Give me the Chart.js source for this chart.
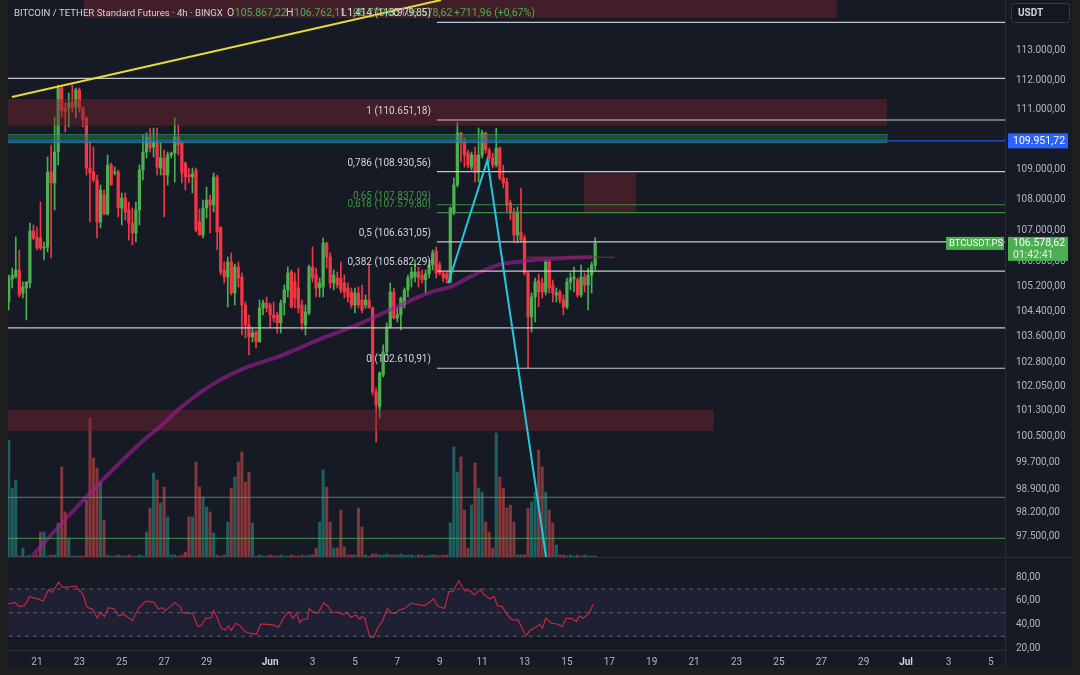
<!DOCTYPE html>
<html><head><meta charset="utf-8">
<script src="https://cdn.jsdelivr.net/npm/chart.js@4/dist/chart.umd.min.js"></script>
<style>
html,body{margin:0;padding:0;width:1080px;height:675px;overflow:hidden;background:#1f1f20;}
#wrap{position:absolute;left:8px;top:0;width:1064px;height:667px;background:#161a25;}
#c1{position:absolute;left:0;top:0;}
#c2{position:absolute;left:0;top:557px;}
#sep{position:absolute;left:0;top:557px;width:1064px;height:1px;background:#2a2e39;}
#vsep{position:absolute;left:997px;top:650px;width:1px;height:17px;background:#2a2e39;}
</style></head><body>
<div id="wrap"><canvas id="c1" width="1064" height="557"></canvas><canvas id="c2" width="1064" height="110"></canvas><div id="sep"></div><div id="vsep"></div></div>
<script>
// ---- time: bar index of 4h bars, 0 = 21 May 00:00 ----
const BAR_START = -8;
const TIME_TICK_K = [0,12,24,36,48,66,78,90,102,114,126,138,150,162,174,186,198,210,222,234,246,258,270];
const TIME_TICK_LABELS = ['21','23','25','27','29','Jun','3','5','7','9','11','13','15','17','19','21','23','25','27','29','Jul','3','5'];
const PRICE_TICKS = [113000,112000,111000,109000,108000,107000,106000,105200,104400,103600,102800,102050,101300,100500,99700,98900,98200,97500];
const RSI_TICKS = [80,60,40,20];

const OPEN = [104700,105430,105500,105720,104985,105145,105305,106980,106785,106755,
106430,106460,108917,108553,109580,111731,111055,111055,111258,111089,
111664,111055,110718,109049,108917,108652,107274,108158,107535,109148,
108884,108917,107731,108060,107666,107241,106916,107666,108983,109580,
110081,109747,109914,109049,109380,108817,109480,109547,110081,109881,
109214,108817,108751,108983,107274,106851,107731,107994,107830,108751,
107111,105721,105497,105979,104985,105818,105497,104603,103970,103592,
103749,103435,104508,104667,104603,104286,104286,104033,104667,105081,
105657,105337,105145,104603,103970,104350,105818,105560,105145,105177,
106592,106140,105305,105465,105465,105305,105145,105018,104603,104985,
104762,104603,104762,104508,101877,101415,102404,103121,103907,105018,
104191,104286,104603,105081,105465,105497,105657,105560,105401,105592,
105882,106334,105882,105625,105592,105337,107568,108487,110215,109914,
109547,109082,109480,108917,109480,110215,109647,109380,109148,109714,
108718,108586,107896,107601,106851,106949,106754,105625,104223,104857,
105401,105305,105018,105979,105241,104920,105018,104762,104540,105337,
105433,105401,104920,105497,105241,105560,105867.22];
const HIGH = [105560,105785,106785,106366,105340,105340,107240,107175,107110,107930,
106625,109414,109814,110752,111833,111833,111225,111562,111833,111731,
111731,111089,110752,109914,109747,108817,108487,108322,109480,109214,
109082,108983,108223,108223,107928,107731,107928,109148,110148,110215,
110382,110382,110382,109881,109647,109580,109580,110718,110483,109914,
109247,109049,109049,109049,107699,107994,108421,108158,108884,108817,
107111,105979,106140,106269,105914,105979,105625,104699,104286,103875,
103812,104762,104762,104857,104667,104699,104381,104762,105241,105818,
105721,105625,105785,104762,104603,105882,106463,105785,105465,106754,
106624,106269,105721,105657,105979,105560,105305,105145,105145,105177,
105241,104920,105882,104540,102001,102498,103341,104033,105305,105145,
104508,104857,105145,105560,105818,106043,105818,105721,105721,106043,
106366,106463,105979,105657,105657,107764,108718,110584,110248,110048,
109647,109580,109747,110382,110315,110248,109714,109547,110382,109747,
109148,108718,107994,107731,107764,108388,106851,105657,104985,105465,
105592,105465,106043,106043,105401,105145,105081,104920,105465,105625,
105818,105465,105882,105625,105785,105979,106762.11];
const LOW = [104450,105145,105465,104860,104825,104130,105145,106690,106366,106366,
106043,106300,106108,107666,109148,110752,110248,110416,110920,110718,
110920,110416,108817,107274,108586,106754,107079,107502,107502,108487,
108817,107437,107177,107339,106689,106527,106624,107177,108652,109380,
109580,109414,108817,108817,107437,108487,109380,108586,109480,108553,
108322,108553,108223,106949,106851,106754,107404,106916,107601,106366,
105560,105305,104540,104920,104603,105177,103655,103560,103027,103435,
103247,103435,104286,104381,103875,104065,103718,103718,104286,104857,
104508,104508,104350,103812,103655,104286,105337,104857,104857,104857,
105785,105145,105081,105145,104985,104825,104699,104508,104350,104508,
104350,104508,104508,101785,100343,101076,102342,103027,103875,104160,
104065,103812,104508,104857,105177,105337,105177,105305,104985,105465,
105721,105465,105560,105337,105305,105305,107502,108421,109247,109082,
109049,108983,108586,108586,109380,109547,109247,109049,109082,108652,
108388,107601,107339,106624,106592,106624,105560,102622,103749,104065,
104540,104825,104920,104985,104699,104699,104667,104286,104476,105081,
105018,104857,104857,105018,104445,104985,105720.00];
const CLOSE = [105460,105560,105720,104920,105175,105340,106980,106755,106430,106430,
106460,108917,108553,109580,111731,110988,110920,111225,111089,111664,
111055,110651,109049,108884,108652,107274,108322,107535,109148,108487,
108917,107731,108060,107601,107241,106916,107666,108983,109580,110081,
109714,109914,109082,109380,108817,109480,109547,110081,109814,108884,
108751,108751,108850,107014,106851,107731,107994,107830,108751,106949,
105657,105497,105979,104985,105818,105465,104603,103970,103592,103718,
103435,104508,104667,104508,104286,104191,104033,104667,105081,105625,
104540,104825,104508,104033,104381,105818,105465,105145,105305,106592,
106140,105305,105560,105241,105081,105018,104857,104603,104985,104603,
104445,104762,104508,101877,101476,102467,103121,103907,105018,104191,
104286,104825,105081,105465,105657,105657,105465,105401,105592,105882,
106269,105625,105625,105465,105433,107731,108487,110215,109914,109480,
109148,109480,108917,109480,110215,109647,109380,109148,109714,108718,
108553,107830,107568,106851,107601,106689,105625,104223,104857,105337,
105018,105018,105979,105145,104985,104985,104762,104540,105337,105465,
105497,104920,105497,105241,105560,105882,106578.62];
// volume (relative units)
const VOLUME = [117,69,77,1,9,1,2,1,2,25,
25,1,2,2,34,90,45,19,1,1,
1,1,57,139,99,89,75,37,2,1,
1,2,1,1,2,1,1,2,1,25,
49,84,77,54,70,40,2,2,1,2,
5,40,40,95,70,60,50,45,24,2,
1,2,35,69,80,95,105,75,85,34,
1,2,1,1,2,1,1,2,1,1,
2,1,1,2,1,2,2,9,35,87,
70,35,9,9,47,10,2,2,2,49,
30,2,1,3,3,2,2,3,2,2,
2,3,2,2,2,1,2,2,1,2,
2,2,1,2,2,34,110,85,100,47,
9,52,94,69,65,35,25,9,124,80,
69,49,52,35,2,2,2,49,55,65,
107,90,65,47,34,12,2,2,1,2,
1,2,1,2,1,1,1];

// moving average (read points)
const MA_K = [-1.1,8.4,17.8,27.2,30.6,35.4,39.9,49.5,58.9,68.2,73.0,81.0,90.6,99.9,109.3,112.6,117.5,122.0,126.8,131.6,136.2,141.0,150.3,157.1];
const MA_P = [96950,98047,99096,100094,100429,100858,101322,102094,102622,102965,103184,103561,103970,104445,104920,105050,105200,105465,105721,105914,105979,106043,106108,106140];

// RSI (read points)
const RSI_K = [-8.2,-6.2,-5.1,-3.5,-2.1,0.2,1.8,3.2,4.3,6.1,7.2,9.1,11.0,13.0,14.2,15.8,17.1,18.1,19.1,20.2,22.0,23.1,24.5,27.0,28.7,30.9,33.2,34.3,35.4,36.3,37.7,39.0,40.5,41.2,44.1,45.5,46.6,47.7,49.4,50.0,50.9,52.2,53.3,54.2,55.0,56.2,57.2,58.9,60.0,62.1,63.4,66.8,68.4,69.6,71.2,72.4,73.5,74.4,75.2,76.5,77.1,77.9,79.6,81.1,82.2,83.5,85.2,86.7,87.8,88.9,90.3,91.4,91.9,92.8,94.2,95.3,96.4,97.8,99.2,100.3,101.5,102.6,104.2,105.9,108.2,109.8,111.0,112.3,113.5,115.4,116.6,117.7,119.4,121.0,122.7,123.8,125.5,126.6,128.3,129.4,130.3,131.7,133.0,134.5,136.2,138.4,139.7,141.2,142.3,143.1,144.0,145.7,147.3,148.7,149.8,151.3,152.7,153.5,154.6,156.3,157.4];
const RSI_V = [57.3,58.7,55.1,55.9,63.5,61.6,59.8,69.2,67.2,75.6,71.4,71.7,72.5,65.5,54.5,52.8,45.2,50.3,46.6,54.2,53.1,47.2,48.6,43.2,53.7,59.9,58.5,53.1,54.2,51.7,55.1,58.5,55.1,50.0,49.4,38.2,39.5,45.2,45.8,51.7,46.6,36.8,35.4,38.7,34.8,41.0,39.6,34.0,32.6,31.7,40.4,39.6,37.6,44.7,50.8,45.2,49.4,41.6,44.4,44.4,53.7,50.8,49.4,58.2,55.9,50.3,50.3,48.6,50.0,46.1,48.0,44.4,46.6,45.2,29.7,29.2,36.8,43.0,53.7,49.4,49.4,52.3,53.7,57.9,56.5,55.9,58.5,61.6,55.1,53.7,67.7,67.7,77.0,68.6,68.3,65.0,69.7,65.0,61.6,63.8,55.9,55.1,48.6,43.8,43.8,30.3,35.4,37.6,40.1,36.8,45.2,41.0,40.4,38.2,45.2,45.2,42.4,47.2,45.2,49.4,57.1];
const RSI_LEVELS = [70,50,30];

// drawings
const FIB_RATIOS = ['1,414','1','0,786','0,65','0,618','0,5','0,382','0'];
const FIB_PRICES = [113979.85,110651.18,108930.56,107837.09,107579.80,106631.05,105682.29,102610.91];
const FIB_START_K = 113.2;
const WHITE_LEVELS = [112060,103880];
const GREEN_LEVELS = [98666,97444];
const BLUE_LEVEL = 109951.72;
const TREND_K = [-7.1,114.4];
const TREND_P = [111427,114760];
const ZIG_K = [116.4,127.5,144.1];
const ZIG_P = [105296,109314,96892];
const RAY_K = [138.6,163.6];
const RAY_P = 106130;
const ZONE_TYPE = ['supply','supply','demand','supply','supply'];
const ZONE_K0 = [13.3,-10,-10,154.8,-10];
const ZONE_K1 = [226.4,240.6,240.6,169.5,191.6];
const ZONE_HI = [116000,111360,110171,108884,101322];
const ZONE_LO = [114134,110460,109870,107601,100678];
const SYMBOL = 'BITCOIN / TETHER Standard Futures · 4h · BINGX';
const COUNTDOWN = '01:42:41';
const CHANGE = '+711,96 (+0,67%)';

// ---- view ----
const XMIN = -8.2, XMAX = 274.0;
const YMIN = 96892, YMAX = 114760;
const RMIN = 18.4, RMAX = 94.5;
const UP = '#4caf50', DOWN = '#f23645';
const FONT = 'Roboto';
Chart.defaults.font.family = FONT;

function fmt(v){ const s = Number(v).toFixed(2).split('.'); return s[0].replace(/\B(?=(\d{3})+(?!\d))/g,'.') + ',' + s[1]; }
const N = OPEN.length;
const last = N-1;
const isUp = OPEN.map((o,i)=>CLOSE[i]>=o);
const barX = i => BAR_START + i;

function lineDS(points, color, width, extra){
  return Object.assign({type:'line', data:points, borderColor:color, borderWidth:width, pointRadius:0, fill:false, tension:0, yAxisID:'y', order:1, spanGaps:true}, extra||{});
}
const hline = (p,k0,k1) => [{x:k0,y:p},{x:k1,y:p}];

const datasets = [
  {type:'bar', yAxisID:'yv', data:VOLUME.map((v,i)=>({x:barX(i),y:v})), backgroundColor:isUp.map(u=>u?'rgba(38,166,154,0.5)':'rgba(239,83,80,0.5)'), barThickness:2.4, grouped:false, order:10},
  {type:'bar', yAxisID:'y', data:OPEN.map((o,i)=>({x:barX(i),y:[LOW[i],HIGH[i]]})), backgroundColor:isUp.map(u=>u?UP:DOWN), barThickness:1, grouped:false, order:9},
  {type:'bar', yAxisID:'y', data:OPEN.map((o,i)=>({x:barX(i),y:[Math.min(o,CLOSE[i]),Math.max(o,CLOSE[i])]})), backgroundColor:isUp.map(u=>u?UP:DOWN), barThickness:2.6, minBarLength:1, grouped:false, order:8},
  lineDS(MA_K.map((k,i)=>({x:k,y:MA_P[i]})), 'rgba(165,30,150,0.6)', 4, {order:6, cubicInterpolationMode:'monotone'}),
  lineDS(hline(RAY_P,RAY_K[0],RAY_K[1]), 'rgba(150,40,55,0.7)', 1.5, {order:5}),
  ...WHITE_LEVELS.map(p=>lineDS(hline(p,XMIN-2,XMAX+2), '#c5c8d0', 1.2, {order:4})),
  ...GREEN_LEVELS.map(p=>lineDS(hline(p,XMIN-2,XMAX+2), 'rgba(76,175,80,0.8)', 1, {order:4})),
  lineDS(hline(BLUE_LEVEL,XMIN-2,XMAX+2), '#2962ff', 1, {order:3}),
  ...FIB_PRICES.map((p,i)=>lineDS(hline(p,FIB_START_K,XMAX+2), (FIB_RATIOS[i]==='0,65'||FIB_RATIOS[i]==='0,618')?'rgba(67,160,71,0.85)':'#c5c8d0', 1.2, {order:3})),
  lineDS(TREND_K.map((k,i)=>({x:k,y:TREND_P[i]})), '#e9d83c', 2, {order:2}),
  lineDS(ZIG_K.map((k,i)=>({x:k,y:ZIG_P[i]})), '#26c6da', 2, {order:2})
];

const zonePlugin = {
  id:'zones',
  afterDatasetDraw(chart, args){
    if (args.index !== 2) return;
    const {ctx, chartArea:a, scales:{x, y}} = chart;
    ctx.save(); ctx.beginPath(); ctx.rect(a.left,a.top,a.right-a.left,a.bottom-a.top); ctx.clip();
    ZONE_TYPE.forEach((t,i)=>{
      const x0=x.getPixelForValue(ZONE_K0[i]), x1=x.getPixelForValue(ZONE_K1[i]);
      const y0=y.getPixelForValue(ZONE_HI[i]), y1=y.getPixelForValue(ZONE_LO[i]);
      ctx.fillStyle = t==='demand' ? 'rgba(46,130,60,0.5)' : 'rgba(120,35,45,0.45)';
      ctx.fillRect(x0,y0,x1-x0,y1-y0);
      if (t==='demand'){ ctx.strokeStyle='rgba(38,166,154,0.45)'; ctx.lineWidth=1; ctx.strokeRect(x0,Math.round(y0)+0.5,x1-x0,Math.round(y1-y0)-1); }
    });
    ctx.restore();
  }
};

const textPlugin = {
  id:'texts',
  afterDraw(chart){
    const {ctx, chartArea:a, scales:{x, y}} = chart;
    ctx.save();
    // header
    ctx.textBaseline='middle'; ctx.textAlign='left';
    const hy = 13.5;
    ctx.font = '9.6px '+FONT;
    ctx.fillStyle='#d1d4dc'; ctx.fillText(SYMBOL, 6, hy);
    ctx.font = '10.5px '+FONT;
    const segs = [['O',OPEN[last],219],['H',HIGH[last],278],['L',LOW[last],333],['C',CLOSE[last],385]];
    segs.forEach(s=>{ ctx.fillStyle='#d1d4dc'; ctx.fillText(s[0], s[2], hy); const w=ctx.measureText(s[0]).width; ctx.fillStyle='#4caf50'; ctx.fillText(fmt(s[1]), s[2]+w+0.5, hy); });
    ctx.fillStyle='#4caf50'; ctx.fillText(CHANGE, 446, hy);
    // fib labels
    ctx.font = '10px '+FONT; ctx.textAlign='right';
    const fx = x.getPixelForValue(FIB_START_K) - 6;
    FIB_PRICES.forEach((p,i)=>{
      const green = FIB_RATIOS[i]==='0,65'||FIB_RATIOS[i]==='0,618';
      ctx.fillStyle = green ? 'rgba(67,160,71,0.9)' : '#d1d4dc';
      ctx.fillText(FIB_RATIOS[i]+' ('+fmt(p)+')', fx, y.getPixelForValue(p)-8.5);
    });
    // blue price label
    ctx.textAlign='left';
    const by = y.getPixelForValue(BLUE_LEVEL);
    ctx.fillStyle='#2962ff'; ctx.fillRect(1000, by-7.5, 60, 15);
    ctx.fillStyle='#ffffff'; ctx.font='10.5px '+FONT; ctx.fillText(fmt(BLUE_LEVEL), 1005, by+0.5);
    // last price label
    const cy = y.getPixelForValue(CLOSE[last]);
    ctx.fillStyle='#4caf50'; ctx.fillRect(1000, cy-6.5, 60, 24);
    ctx.fillStyle='#ffffff'; ctx.fillText(fmt(CLOSE[last]), 1005, cy);
    ctx.fillStyle='rgba(255,255,255,0.85)'; ctx.fillText(COUNTDOWN, 1005, cy+11.5);
    ctx.fillStyle='#4caf50'; ctx.fillRect(938, cy-6.5, 58, 13);
    ctx.fillStyle='#ffffff'; ctx.font='9.5px '+FONT; ctx.fillText('BTCUSDT.PS', 941, cy);
    // currency box
    ctx.fillStyle='#131722'; ctx.strokeStyle='#363a45'; ctx.lineWidth=1;
    ctx.beginPath(); ctx.roundRect(1003.5,3.5,58,19,3); ctx.fill(); ctx.stroke();
    ctx.fillStyle='#d1d4dc'; ctx.font='bold 10px '+FONT; ctx.fillText('USDT', 1010, 13);
    ctx.restore();
  }
};

new Chart(document.getElementById('c1'), {
  type:'bar',
  data:{datasets},
  options:{
    responsive:false, animation:false, events:[],
    layout:{padding:0},
    plugins:{legend:{display:false}, tooltip:{enabled:false}},
    scales:{
      x:{type:'linear', min:XMIN, max:XMAX, display:false, offset:false, grid:{offset:false}},
      y:{type:'logarithmic', position:'right', min:YMIN, max:YMAX,
         afterBuildTicks:s=>{ s.ticks = PRICE_TICKS.map(v=>({value:v})); },
         afterFit:s=>{ s.width=67; s.paddingTop=0; s.paddingBottom=0; },
         ticks:{callback:v=>fmt(v), color:'#b2b5be', font:{size:10}, padding:11, autoSkip:false},
         grid:{display:false, drawTicks:false}, border:{display:true, color:'#2a2e39'}},
      yv:{type:'linear', display:false, min:0, max:557}
    }
  },
  plugins:[zonePlugin, textPlugin]
});

const bandPlugin = {
  id:'band',
  beforeDatasetsDraw(chart){
    const {ctx, chartArea:a, scales:{y}} = chart;
    const y0=y.getPixelForValue(RSI_LEVELS[0]), y1=y.getPixelForValue(RSI_LEVELS[2]);
    ctx.save(); ctx.fillStyle='rgba(126,87,194,0.1)'; ctx.fillRect(a.left,y0,a.right-a.left,y1-y0); ctx.restore();
  }
};

new Chart(document.getElementById('c2'), {
  type:'line',
  data:{datasets:[
    ...RSI_LEVELS.map(l=>({data:[{x:XMIN-2,y:l},{x:XMAX+2,y:l}], borderColor:'rgba(120,123,134,0.7)', borderWidth:1, borderDash:[4,4], pointRadius:0, fill:false})),
    {data:RSI_K.map((k,i)=>({x:k,y:RSI_V[i]})), borderColor:'#c2283f', borderWidth:1.2, pointRadius:0, fill:false, tension:0}
  ]},
  options:{
    responsive:false, animation:false, events:[],
    layout:{padding:{top:3}},
    plugins:{legend:{display:false}, tooltip:{enabled:false}},
    scales:{
      x:{type:'linear', min:XMIN, max:XMAX, position:'bottom',
         afterBuildTicks:s=>{ s.ticks = TIME_TICK_K.map(v=>({value:v})); },
         afterFit:s=>{ s.height=17; s.paddingLeft=0; s.paddingRight=0; },
         ticks:{callback:(v,i)=>TIME_TICK_LABELS[i], autoSkip:false, maxRotation:0, padding:6,
                color:c=>(TIME_TICK_LABELS[c.index]==='Jun'||TIME_TICK_LABELS[c.index]==='Jul')?'#d1d4dc':'#b2b5be',
                font:c=>({size:10, weight:(TIME_TICK_LABELS[c.index]==='Jun'||TIME_TICK_LABELS[c.index]==='Jul')?'bold':'normal'})},
         grid:{display:false, drawTicks:false}, border:{display:true, color:'#2a2e39'}},
      y:{type:'linear', position:'right', min:RMIN, max:RMAX,
         afterBuildTicks:s=>{ s.ticks = RSI_TICKS.map(v=>({value:v})); },
         afterFit:s=>{ s.width=67; s.paddingTop=0; s.paddingBottom=0; },
         ticks:{callback:v=>fmt(v), color:'#b2b5be', font:{size:10}, padding:11, autoSkip:false},
         grid:{display:false, drawTicks:false}, border:{display:true, color:'#2a2e39'}}
    }
  },
  plugins:[bandPlugin]
});
</script>
</body></html>
